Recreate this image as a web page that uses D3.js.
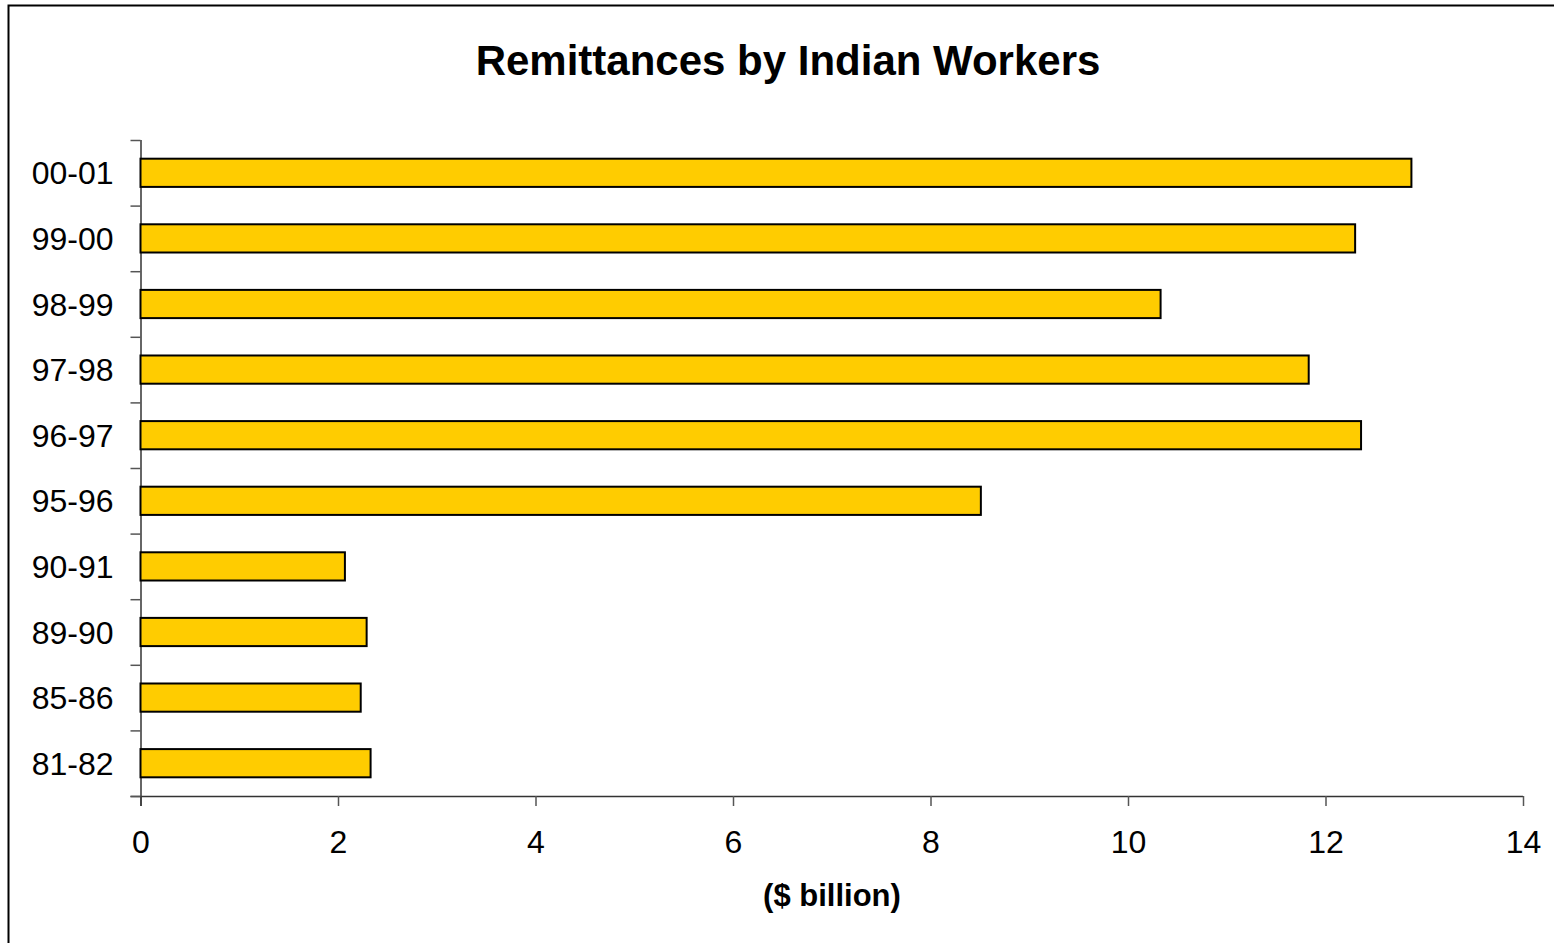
<!DOCTYPE html>
<html>
<head>
<meta charset="utf-8">
<script src="https://cdn.jsdelivr.net/npm/d3@7"></script>
<style>
  body { margin: 0; background: #fff; }
  svg { display: block; font-family: "Liberation Sans", Arial, sans-serif; }
</style>
</head>
<body>
<div id="chart"></div>
<script>
// data, top bar first
const periods = ["00-01", "99-00", "98-99", "97-98", "96-97", "95-96", "90-91", "89-90", "85-86", "81-82"];
const remittances = [12.87, 12.30, 10.33, 11.83, 12.36, 8.51, 2.07, 2.29, 2.23, 2.33];
const xTicks = [0, 2, 4, 6, 8, 10, 12, 14];

const W = 1554, H = 943;
const margin = {top: 140, right: 31, bottom: 147, left: 140.5};
const width = W - margin.left - margin.right;
const height = H - margin.top - margin.bottom;

const svg = d3.select("#chart")
  .append("svg")
  .attr("width", W)
  .attr("height", H);

// outer frame
svg.append("rect")
  .attr("x", 8.5).attr("y", 5.5)
  .attr("width", W).attr("height", H)
  .attr("fill", "none")
  .attr("stroke", "#000")
  .attr("stroke-width", 2);

svg.append("text")
  .attr("x", 788).attr("y", 75)
  .attr("text-anchor", "middle")
  .style("font-size", "42px")
  .style("font-weight", "bold")
  .text("Remittances by Indian Workers");

const g = svg.append("g")
  .attr("transform", `translate(${margin.left}, ${margin.top})`);

const x = d3.scaleLinear()
  .domain([0, 14])
  .range([0, width]);

const y = d3.scaleBand()
  .domain(periods)
  .range([0, height])
  .paddingInner(0.57)
  .paddingOuter(0.285);

// x axis
const xAxis = g.append("g")
  .attr("transform", `translate(0, ${height})`)
  .call(d3.axisBottom(x).tickValues(xTicks).tickSize(10).tickPadding(24).tickFormat(d3.format("d")));
xAxis.select(".domain").attr("d", `M-10,0.5H${width}`).attr("stroke", "#333").attr("stroke-width", 1.5);
xAxis.selectAll(".tick line").attr("stroke", "#555").attr("stroke-width", 1.5);
xAxis.selectAll("text").style("font-size", "32px").attr("fill", "#000");

// y axis: ticks between categories
const yAxis = g.append("g");
yAxis.append("line")
  .attr("x1", 0.5).attr("x2", 0.5)
  .attr("y1", 0).attr("y2", height + 10)
  .attr("stroke", "#333").attr("stroke-width", 1.5);
const step = y.step();
yAxis.selectAll("line.sep")
  .data(d3.range(periods.length + 1))
  .join("line")
  .attr("class", "sep")
  .attr("x1", -10).attr("x2", 0)
  .attr("y1", i => i * step + 0.5)
  .attr("y2", i => i * step + 0.5)
  .attr("stroke", "#555").attr("stroke-width", 1.5);
yAxis.selectAll("text")
  .data(periods)
  .join("text")
  .attr("x", -27)
  .attr("y", d => y(d) + y.bandwidth() / 2)
  .attr("dy", "0.36em")
  .attr("text-anchor", "end")
  .style("font-size", "32px")
  .text(d => d);

// bars
g.selectAll("rect.bar")
  .data(periods.map((p, i) => ({period: p, value: remittances[i]})))
  .join("rect")
  .attr("class", "bar")
  .attr("x", x(0))
  .attr("y", d => y(d.period))
  .attr("width", d => x(d.value) - x(0))
  .attr("height", y.bandwidth())
  .attr("fill", "#FFCC00")
  .attr("stroke", "#000")
  .attr("stroke-width", 2);

svg.append("text")
  .attr("x", 832).attr("y", 906)
  .attr("text-anchor", "middle")
  .style("font-size", "31px")
  .style("font-weight", "bold")
  .text("($ billion)");
</script>
</body>
</html>
